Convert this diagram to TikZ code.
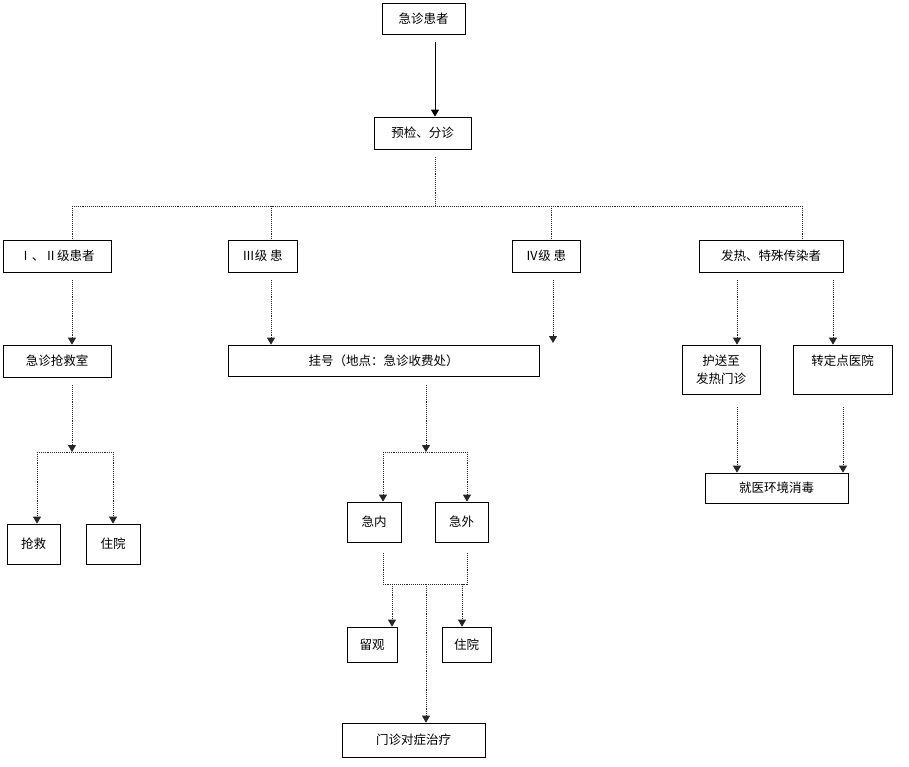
\documentclass[tikz,border=0pt]{standalone}
\usepackage{fontspec}
\setmainfont{Noto Sans CJK SC}
\usetikzlibrary{arrows.meta,calc}
\begin{document}
\begin{tikzpicture}[x=1pt,y=-1pt,
  box/.style={draw=black, line width=0.7pt, inner sep=0pt, align=center,
    font=\fontsize{12.5}{18}\selectfont},
  link/.style={draw=black!85, line width=0.9pt, densely dotted},
  arr/.style={link, -{Triangle[length=7pt,width=8pt]}},
  arrsolid/.style={draw=black, line width=0.9pt, -{Triangle[length=7pt,width=8pt]}}]
\useasboundingbox (0,0) rectangle (909,767);
% nodes
\node[box, minimum width=83pt, minimum height=31pt] (n1) at (423.5,18.5) {急诊患者};
\node[box, minimum width=97pt, minimum height=32pt] (n2) at (422.5,133) {预检、分诊};
\node[box, minimum width=108pt, minimum height=32pt] (a1) at (57,256) {Ⅰ、Ⅱ级患者};
\node[box, minimum width=69pt, minimum height=32pt] (b1) at (262.5,256) {Ⅲ级 患};
\node[box, minimum width=68pt, minimum height=32pt] (c1) at (546,256) {Ⅳ级 患};
\node[box, minimum width=144pt, minimum height=32pt] (d1) at (771,256) {发热、特殊传染者};
\node[box, minimum width=108pt, minimum height=32pt] (a2) at (57,361) {急诊抢救室};
\node[box, minimum width=311pt, minimum height=31pt] (b2) at (383.5,360.5) {挂号（地点：急诊收费处）};
\node[box, minimum width=78pt, minimum height=49pt] (d2) at (721,369.5) {护送至\\发热门诊};
\node[box, minimum width=99pt, minimum height=49pt] (d3) at (842.5,369.5) {转定点医院\\\mbox{}};
\node[box, minimum width=143pt, minimum height=30pt] (d4) at (776.5,488) {就医环境消毒};
\node[box, minimum width=53pt, minimum height=40pt] (a3) at (33.5,544) {抢救};
\node[box, minimum width=54pt, minimum height=40pt] (a4) at (113,544) {住院};
\node[box, minimum width=54pt, minimum height=40pt] (b3) at (374,522) {急内};
\node[box, minimum width=53pt, minimum height=40pt] (b4) at (461.5,522) {急外};
\node[box, minimum width=50pt, minimum height=35pt] (b5) at (372,644.5) {留观};
\node[box, minimum width=49pt, minimum height=35pt] (b6) at (466.5,644.5) {住院};
\node[box, minimum width=143pt, minimum height=34pt] (b7) at (413.5,740) {门诊对症治疗};
% junction coordinates
\coordinate (sp) at (435,206);
\coordinate (ha) at (72,206);
\coordinate (hb) at (271,206);
\coordinate (hc) at (551,206);
\coordinate (hd) at (802,206);
\coordinate (cx) at (553,0);
\coordinate (cend) at (553,343);
\coordinate (dx1) at (737,0);
\coordinate (dx2) at (833,0);
\coordinate (dx3) at (843,0);
\coordinate (ja) at (72,452);
\coordinate (jaL) at (37,452);
\coordinate (jaR) at (113,452);
\coordinate (jb) at (426,452);
\coordinate (jbL) at (383,452);
\coordinate (jbR) at (467,452);
\coordinate (kbL) at (383,584);
\coordinate (kbR) at (467,584);
\coordinate (k1) at (392,584);
\coordinate (k2) at (462,584);
\coordinate (k3) at (426,584);
% connectors
\draw[arrsolid] ([yshift=-8pt]n1.south -| sp) -- (n2.north -| sp);
\draw[link] ([yshift=-8pt]n2.south -| sp) -- (sp);
\draw[link] (ha) -- (hd);
\draw[link] (ha) -- (ha |- a1.north);
\draw[link] (hb) -- (hb |- b1.north);
\draw[link] (hc) -- (hc |- c1.north);
\draw[link] (hd) -- (hd |- d1.north);
\draw[arr] ([yshift=-8pt]a1.south -| ha) -- (a2.north -| ha);
\draw[arr] ([yshift=-8pt]b1.south -| hb) -- (b2.north -| hb);
\draw[arr] ([yshift=-8pt]c1.south -| cx) -- (cend);
\draw[arr] ([yshift=-8pt]d1.south -| dx1) -- (d2.north -| dx1);
\draw[arr] ([yshift=-8pt]d1.south -| dx2) -- (d3.north -| dx2);
\draw[arr] ([yshift=-13pt]d2.south -| dx1) -- (d4.north -| dx1);
\draw[arr] ([yshift=-13pt]d3.south -| dx3) -- (d4.north -| dx3);
% left bottom
\draw[arr] ([yshift=-8pt]a2.south -| ja) -- (ja);
\draw[link] (jaL) -- (jaR);
\draw[arr] (jaL) -- (a3.north -| jaL);
\draw[arr] (jaR) -- (a4.north -| jaR);
% middle bottom
\draw[arr] ([yshift=-9pt]b2.south -| jb) -- (jb);
\draw[link] (jbL) -- (jbR);
\draw[arr] (jbL) -- (b3.north -| jbL);
\draw[arr] (jbR) -- (b4.north -| jbR);
\draw[link] ([yshift=-11pt]b3.south -| kbL) -- (kbL) -- (kbR) -- ([yshift=-11pt]b4.south -| kbR);
\draw[arr] (k1) -- (b5.north -| k1);
\draw[arr] (k2) -- (b6.north -| k2);
\draw[arr] (k3) -- (b7.north -| k3);
\end{tikzpicture}
\end{document}
